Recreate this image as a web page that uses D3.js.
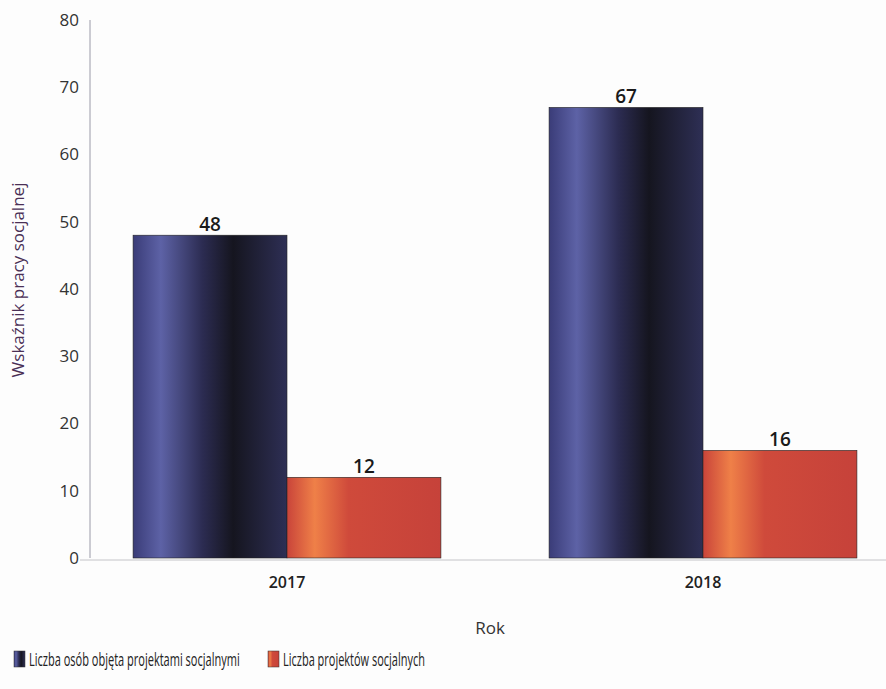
<!DOCTYPE html>
<html>
<head>
<meta charset="utf-8">
<script src="https://cdn.jsdelivr.net/npm/d3@7"></script>
<style>
body{margin:0;background:#fdfdfd;}
svg{font-family:"Open Sans","DejaVu Sans",sans-serif;}
</style>
</head>
<body>
<svg id="chart" width="886" height="689"></svg>
<script>
// dane
let years=["2017","2018"];
let seriesNames=["Liczba osób objęta projektami socjalnymi","Liczba projektów socjalnych"];
let osoby=[48,67];
let projekty=[12,16];
let yTicks=[0,10,20,30,40,50,60,70,80];

let svg=d3.select("#chart");

// gradienty - poziome, jak w oryginale
let defs=svg.append("defs");
let gBlue=defs.append("linearGradient").attr("id","gBlue");
gBlue.append("stop").attr("offset","0%").attr("stop-color","#3a3c78");
gBlue.append("stop").attr("offset","18%").attr("stop-color","#5d62a6");
gBlue.append("stop").attr("offset","45%").attr("stop-color","#2c2c52");
gBlue.append("stop").attr("offset","65%").attr("stop-color","#15151f");
gBlue.append("stop").attr("offset","100%").attr("stop-color","#2e2f55");
let gRed=defs.append("linearGradient").attr("id","gRed");
gRed.append("stop").attr("offset","0%").attr("stop-color","#c9443a");
gRed.append("stop").attr("offset","18%").attr("stop-color","#ef8048");
gRed.append("stop").attr("offset","40%").attr("stop-color","#cf4a3b");
gRed.append("stop").attr("offset","100%").attr("stop-color","#c6423a");

let colors=["url(#gBlue)","url(#gRed)"];

let y=d3.scaleLinear().domain([0,80]).range([558,20]);
let x=d3.scaleBand().domain(years).range([79,911]).paddingInner(0.26).paddingOuter(0.13);
let xs=d3.scaleBand().domain([0,1]).range([0,x.bandwidth()]);

// osie
svg.append("line").attr("x1",90).attr("x2",90).attr("y1",y(80)).attr("y2",y(0))
    .attr("stroke","#9a9aa8").attr("stroke-width",1);
svg.append("line").attr("x1",80).attr("x2",886).attr("y1",y(0)+2).attr("y2",y(0)+2)
    .attr("stroke","#c4c4c8").attr("stroke-width",1);

svg.selectAll(".ytick").data(yTicks).enter().append("text")
    .attr("x",79).attr("y",d=>y(d)).attr("dy","0.35em")
    .attr("text-anchor","end").attr("font-size",17).attr("fill","#333")
    .text(d=>d);

svg.append("text")
    .attr("transform","translate(24,280) rotate(-90)")
    .attr("text-anchor","middle").attr("font-size",17).attr("fill","#4a2f55")
    .text("Wskaźnik pracy socjalnej");

// słupki
let groups=svg.selectAll(".grp").data(years).enter().append("g")
    .attr("transform",d=>"translate("+x(d)+",0)");

groups.each(function(yr,i){
    let g=d3.select(this);
    let vals=[osoby[i],projekty[i]];
    vals.forEach(function(v,s){
        g.append("rect")
            .attr("x",xs(s)).attr("y",y(v))
            .attr("width",xs.bandwidth()).attr("height",y(0)-y(v))
            .attr("fill",colors[s])
            .attr("stroke","#222").attr("stroke-width",0.6);
        g.append("text")
            .attr("x",xs(s)+xs.bandwidth()/2).attr("y",y(v)-4)
            .attr("text-anchor","middle").attr("font-size",19).attr("font-weight",600)
            .attr("fill","#1a1a1a").text(v);
    });
    g.append("text")
        .attr("x",x.bandwidth()/2).attr("y",y(0)+30)
        .attr("text-anchor","middle").attr("font-size",16).attr("font-weight",600)
        .attr("fill","#222").text(yr);
});

svg.append("text").attr("x",490).attr("y",634)
    .attr("text-anchor","middle").attr("font-size",17).attr("fill","#333").text("Rok");

// legenda - tekst zwężony przez skalowanie, jak w oryginale
let legX=[14,268];
let legW=[211,142];
seriesNames.forEach(function(n,s){
    svg.append("rect").attr("x",legX[s]).attr("y",651).attr("width",11).attr("height",16)
        .attr("fill",colors[s]).attr("stroke","#333").attr("stroke-width",0.5);
    let t=svg.append("text").attr("font-size",18).attr("fill","#222").text(n);
    let len=t.node().getComputedTextLength();
    t.attr("transform","translate("+(legX[s]+15)+",666) scale("+(legW[s]/len)+",1)");
});
</script>
</body>
</html>
